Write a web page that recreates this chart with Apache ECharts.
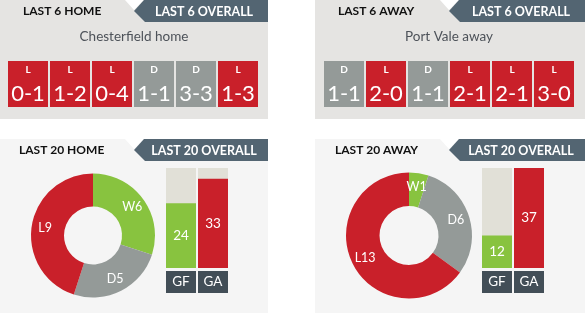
<!DOCTYPE html>
<html>
<head>
<meta charset="utf-8">
<script src="https://cdn.jsdelivr.net/npm/echarts@6/dist/echarts.min.js"></script>
<style>
  html, body { margin: 0; padding: 0; background: #fff; }
  #chart { width: 585px; height: 313px; }
</style>
</head>
<body>
<div id="chart"></div>
<script>
// last 6 matches
const homeTeamLabel = 'Chesterfield home'
const awayTeamLabel = 'Port Vale away'
const homeResults = ['L', 'L', 'L', 'D', 'D', 'L']
const homeScores = ['0-1', '1-2', '0-4', '1-1', '3-3', '1-3']
const awayResults = ['D', 'L', 'D', 'L', 'L', 'L']
const awayScores = ['1-1', '2-0', '1-1', '2-1', '2-1', '3-0']

// last 20 form (W, D, L)
const formNames = ['W', 'D', 'L']
const homeForm = [6, 5, 9]
const awayForm = [1, 6, 13]

// goals for / against
const goalNames = ['GF', 'GA']
const homeGoals = [24, 33]
const awayGoals = [12, 37]

const RED = '#c9202a'
const GREY = '#949a98'
const GREEN = '#88c33f'
const TAB = '#536572'
const resultColor = { W: GREEN, D: GREY, L: RED }
const FONT = 'Lato, "Open Sans", sans-serif'

const chart = echarts.init(document.getElementById('chart'))

// panel background + the two tabs on top
function panel (x, y, w, h, bg, leftText, rightText, leftX) {
    return [
        { type: 'rect', shape: { x: x, y: y, width: w, height: h }, style: { fill: bg }, z: -10 },
        { type: 'polygon', shape: { points: [[x + 125, y], [x + 144, y], [x + 134, y + 10]] }, style: { fill: '#fff' }, z: -9 },
        {
            type: 'polygon',
            shape: { points: [[x + 144, y], [x + w, y], [x + w, y + 22], [x + 145, y + 22], [x + 134, y + 11]] },
            style: { fill: TAB },
            z: -9
        },
        {
            type: 'text', z: -8,
            style: { text: leftText, x: x + leftX, y: y + 11.5, fill: '#111', font: 'bold 12px ' + FONT, verticalAlign: 'middle' }
        },
        {
            type: 'text', z: -8,
            style: { text: rightText, x: x + w - 64, y: y + 11.5, fill: '#fff', font: 'bold 12.5px ' + FONT, align: 'center', verticalAlign: 'middle' }
        }
    ]
}

function subtitle (x, text) {
    return {
        type: 'text', z: -8,
        style: { text: text, x: x, y: 37, fill: '#4d5259', font: '13.5px ' + FONT, align: 'center', verticalAlign: 'middle' }
    }
}

const graphics = [].concat(
    panel(0, 0, 268, 119, '#e5e4e2', 'LAST 6 HOME', 'LAST 6 OVERALL', 23),
    panel(315, 0, 270, 119, '#e5e4e2', 'LAST 6 AWAY', 'LAST 6 OVERALL', 23),
    panel(0, 139, 268, 174, '#f5f5f5', 'LAST 20 HOME', 'LAST 20 OVERALL', 19),
    panel(315, 139, 270, 174, '#f5f5f5', 'LAST 20 AWAY', 'LAST 20 OVERALL', 20),
    [subtitle(134, homeTeamLabel), subtitle(449, awayTeamLabel)]
)

const goalMax = Math.max(...homeGoals, ...awayGoals)

// hidden axes for the result boxes / goal bars
function catAxis (idx, data, showLabel) {
    return {
        type: 'category',
        gridIndex: idx,
        data: data,
        axisLine: { show: false },
        axisTick: { show: false },
        axisLabel: showLabel ? {
            margin: 3,
            color: '#fff',
            backgroundColor: '#424e57',
            width: 30,
            height: 22,
            lineHeight: 22,
            align: 'center',
            fontSize: 13.5,
            fontFamily: FONT
        } : { show: false }
    }
}
function valAxis (idx, max) {
    return {
        type: 'value', gridIndex: idx, min: 0, max: max,
        axisLine: { show: false }, axisTick: { show: false },
        axisLabel: { show: false }, splitLine: { show: false }
    }
}

function resultSeries (idx, results, scores) {
    return {
        type: 'bar',
        xAxisIndex: idx,
        yAxisIndex: idx,
        barWidth: 40,
        silent: true,
        data: scores.map((s, i) => ({ value: 1, itemStyle: { color: resultColor[results[i]] } })),
        label: {
            show: true,
            position: 'insideTop',
            distance: 0,
            formatter: p => '{r|' + results[p.dataIndex] + '}\n{s|' + scores[p.dataIndex] + '}',
            rich: {
                r: { fontSize: 10, fontWeight: 'bold', color: '#fff', lineHeight: 18, fontFamily: FONT },
                s: { fontSize: 22, color: '#fff', lineHeight: 30, fontFamily: FONT }
            }
        }
    }
}

function goalSeries (idx, goals) {
    return {
        type: 'bar',
        xAxisIndex: idx,
        yAxisIndex: idx,
        barWidth: 30,
        silent: true,
        showBackground: true,
        backgroundStyle: { color: '#e1e0d7' },
        data: goals.map((g, i) => ({ value: g, itemStyle: { color: i === 0 ? GREEN : RED } })),
        label: { show: true, position: 'inside', color: '#fff', fontSize: 13.5, fontFamily: FONT }
    }
}

function formSeries (cx, r0, r, form) {
    return {
        type: 'pie',
        center: [cx, 235.5],
        radius: [r0, r],
        startAngle: 90,
        silent: true,
        data: form.map((v, i) => ({ name: formNames[i], value: v, itemStyle: { color: resultColor[formNames[i]] } })),
        label: {
            show: true,
            position: 'inside',
            formatter: '{b}{c}',
            color: '#fff',
            fontSize: 12.5,
            fontFamily: FONT
        },
        labelLine: { show: false }
    }
}

const option = {
    animation: false,
    graphic: { elements: graphics },
    grid: [
        { left: 7, top: 61, width: 252, height: 46 },
        { left: 323, top: 61, width: 252, height: 46 },
        { left: 165, top: 168, width: 64, height: 100 },
        { left: 481, top: 168, width: 64, height: 100 }
    ],
    xAxis: [
        catAxis(0, homeScores, false),
        catAxis(1, awayScores, false),
        catAxis(2, goalNames, true),
        catAxis(3, goalNames, true)
    ],
    yAxis: [valAxis(0, 1), valAxis(1, 1), valAxis(2, goalMax), valAxis(3, goalMax)],
    series: [
        resultSeries(0, homeResults, homeScores),
        resultSeries(1, awayResults, awayScores),
        goalSeries(2, homeGoals),
        goalSeries(3, awayGoals),
        formSeries(93, 29, 62, homeForm),
        formSeries(409, 29.5, 63, awayForm)
    ]
}

chart.setOption(option)
</script>
</body>
</html>
